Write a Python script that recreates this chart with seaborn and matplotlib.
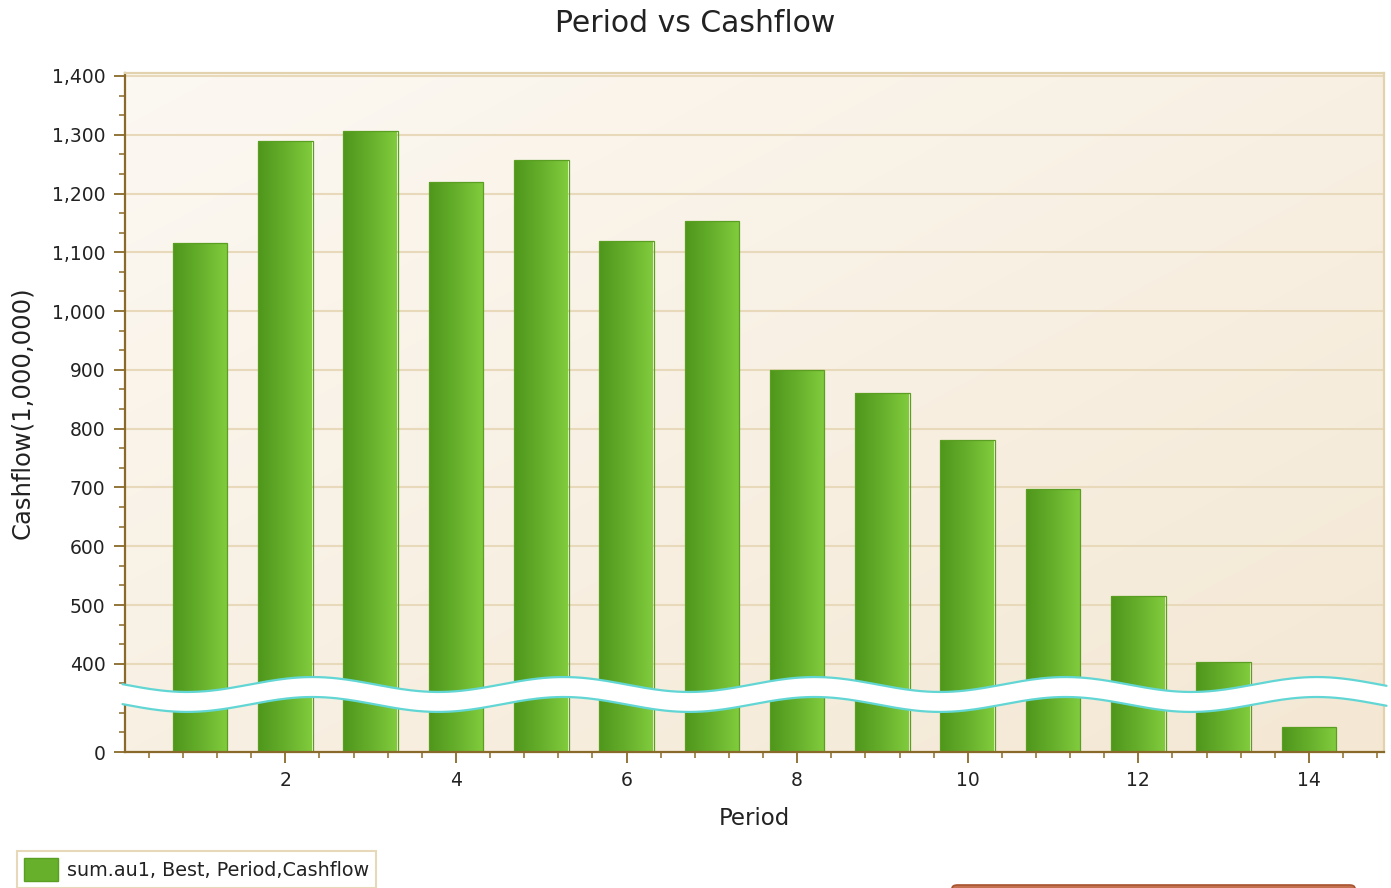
import numpy as np
import matplotlib
matplotlib.use("Agg")
import matplotlib.pyplot as plt
from matplotlib.colors import LinearSegmentedColormap
from matplotlib.patches import Patch, Polygon, FancyBboxPatch
from matplotlib.ticker import FixedLocator, MultipleLocator, FuncFormatter
import seaborn as sns

# data
period = [1, 2, 3, 4, 5, 6, 7, 8, 9, 10, 11, 12, 13, 14]
cashflow = [1116, 1290, 1306, 1220, 1257, 1119, 1153, 900, 861, 781, 698, 516, 403, 42]
y_ticks = [0, 400, 500, 600, 700, 800, 900, 1000, 1100, 1200, 1300, 1400]
x_ticks = [2, 4, 6, 8, 10, 12, 14]
series_label = "sum.au1, Best, Period,Cashflow"

brown = "#8a6a2a"
pale = "#e2d2ad"
text_c = "#222222"


# broken y axis: squeeze 80..350 into a thin slice hidden under the wave
def fwd(y):
    y = np.asarray(y, dtype=float)
    return np.where(y <= 80, y, np.where(y >= 350, y - 250, 80 + (y - 80) * 20 / 270))


def inv(s):
    s = np.asarray(s, dtype=float)
    return np.where(s <= 80, s, np.where(s >= 100, s + 250, 80 + (s - 80) * 270 / 20))


sns.set_style("white")
plt.rcParams["font.family"] = ["DejaVu Sans"]

fig = plt.figure(figsize=(13.91, 8.88), dpi=100)
ax = fig.add_axes([125 / 1391, 136 / 888, 1259 / 1391, 679 / 888])
ax.set_yscale("function", functions=(fwd, inv))

sns.barplot(x=period, y=cashflow, native_scale=True, width=0.64, color="#66b02c",
            saturation=1, edgecolor="#5a9e22", linewidth=0.9, errorbar=None, ax=ax, zorder=2)

# horizontal green gradient inside every bar
green = LinearSegmentedColormap.from_list("g", ["#4f971c", "#66b02c", "#82cc3e"])
grad = np.linspace(0, 1, 64).reshape(1, -1)
for p in ax.patches:
    x0, w = p.get_x(), p.get_width()
    im = ax.imshow(grad, extent=(x0, x0 + w, 0, 1), transform=ax.get_xaxis_transform(),
                   aspect="auto", cmap=green, zorder=1.9, interpolation="bilinear")
    im.set_clip_path(p)
    p.set_facecolor("none")

# plot area background gradient
bg = LinearSegmentedColormap.from_list("bg", ["#fcf8f2", "#f4e8d4"])
xx, yy = np.meshgrid(np.linspace(0, 1, 100), np.linspace(0, 1, 100))
ax.imshow((xx + yy) / 2, extent=(0, 1, 0, 1), transform=ax.transAxes,
          aspect="auto", cmap=bg, zorder=0, origin="upper", interpolation="bilinear")

ax.set_xlim(0.12, 14.88)
ax.set_ylim(0, 1405)

ax.yaxis.set_major_locator(FixedLocator(y_ticks))
ax.yaxis.set_major_formatter(FuncFormatter(lambda v, _: f"{v:,.0f}"))
minors = [v for v in np.arange(0, 1405, 100 / 3) if (v < 90 or v > 340) and abs(v % 100) > 1 and abs(v % 100 - 100) > 1]
ax.yaxis.set_minor_locator(FixedLocator(minors))
ax.xaxis.set_major_locator(FixedLocator(x_ticks))
ax.xaxis.set_major_formatter(FuncFormatter(lambda v, _: f"{v:.0f}"))
ax.xaxis.set_minor_locator(MultipleLocator(0.4))

for v in y_ticks[1:]:
    ax.axhline(v, color="#e8d9ba", lw=1.5, zorder=1)

for side in ["left", "bottom"]:
    ax.spines[side].set_color(brown)
    ax.spines[side].set_linewidth(1.6)
for side in ["top", "right"]:
    ax.spines[side].set_color(pale)
    ax.spines[side].set_linewidth(1.6)

ax.tick_params(axis="both", which="major", direction="out", length=8, width=1.3,
               color=brown, labelsize=13.5, labelcolor=text_c, pad=6,
               left=True, bottom=True)
ax.tick_params(axis="both", which="minor", direction="out", length=4, width=1.1,
               color=brown, left=True, bottom=True)

ax.set_xlabel("Period", fontsize=16.5, color=text_c, labelpad=12)
ax.set_ylabel("Cashflow(1,000,000)", fontsize=17.5, color=text_c, labelpad=13)
fig.text(0.5, 1 - 24 / 888, "Period vs Cashflow", fontsize=21.5, color=text_c,
         ha="center", va="center")

# wavy break band over the y axis gap
xs = np.linspace(-0.002, 1.002, 400)
centre = 0.0847 + 0.011 * np.cos(2 * np.pi * (xs - 0.149) / 0.1994)
half = 0.0147
top = centre + half
bot = centre - half
band = Polygon(np.vstack([np.column_stack([xs, top]), np.column_stack([xs[::-1], bot[::-1]])]),
               closed=True, transform=ax.transAxes, facecolor="white", edgecolor="none",
               zorder=5, clip_on=False)
ax.add_patch(band)
ax.plot(xs, top, color="#62d6d4", lw=1.6, transform=ax.transAxes, zorder=6, clip_on=False)
ax.plot(xs, bot, color="#62d6d4", lw=1.6, transform=ax.transAxes, zorder=6, clip_on=False)

handle = Patch(facecolor="#66b02c", edgecolor="#5a9e22", label=series_label)
leg = fig.legend(handles=[handle], loc="upper left", bbox_to_anchor=(17 / 1391, 1 - 851 / 888),
                 borderaxespad=0, frameon=True, fancybox=False, fontsize=13.8,
                 handlelength=1.8, handleheight=1.5, borderpad=0.35, handletextpad=0.45,
                 labelcolor=text_c)
leg.get_frame().set_edgecolor("#e0cfa8")
leg.get_frame().set_linewidth(1.5)

# edge of a box cut off at the bottom right
fig.patches.append(FancyBboxPatch((952 / 1391, -0.05), (1355 - 952) / 1391, 0.05 + 3 / 888,
                                  boxstyle="round,pad=0,rounding_size=0.004",
                                  transform=fig.transFigure, facecolor="#c47150",
                                  edgecolor="#a8532f", lw=1.2, clip_on=False))

fig.savefig("out.png", dpi=100)
